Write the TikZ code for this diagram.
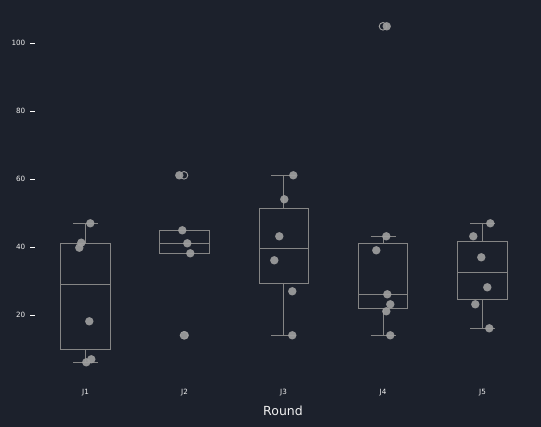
\documentclass[tikz,border=0pt]{standalone}
\usepackage{fontspec}
\setmainfont{DejaVu Sans}
\definecolor{bg}{HTML}{1C212C}
\definecolor{boxc}{HTML}{858585}
\definecolor{ptc}{HTML}{9E9E9E}
\definecolor{txt}{HTML}{F0F0F0}
\tikzset{
  boxline/.style={draw=boxc, line width=1pt},
  pt/.style={fill=ptc, fill opacity=0.92, draw=none},
  flier/.style={draw=ptc, line width=0.9pt, fill=none},
  ticklab/.style={text=txt, font=\fontsize{7.2}{8}\selectfont, inner sep=0pt},
  axtick/.style={draw=white, line width=0.9pt},
}
% \bxp{center}{left}{right}{q3 y}{median y}{q1 y}{whisker top y}{whisker bottom y}
\newcommand{\bxp}[8]{%
  \draw[boxline] (#2,#4) rectangle (#3,#6);
  \draw[boxline] (#2,#5) -- (#3,#5);
  \draw[boxline] (#1,#4) -- (#1,#7);
  \draw[boxline] (#1,#6) -- (#1,#8);
  \draw[boxline] ({#1-12.5},#7) -- ({#1+12.5},#7);
  \draw[boxline] ({#1-12.5},#8) -- ({#1+12.5},#8);
}
\newcommand{\dotp}[2]{\fill[pt] (#1,#2) circle (4.2);}
\newcommand{\flr}[2]{\draw[flier] (#1,#2) circle (3.8);}
\begin{document}
\begin{tikzpicture}[x=1pt,y=-1pt]
\fill[bg] (0,0) rectangle (541,427);
\useasboundingbox (0,0) rectangle (541,427);
% y axis ticks
\foreach \v/\yy in {100/43,80/111,60/179,40/247,20/315}{
  \draw[axtick] (30,\yy) -- (35,\yy);
  \node[ticklab, anchor=east] (ty\v) at (25.5,\yy) {\v};
}
% x labels
\node[ticklab] (x1) at (85.5,393) {J1};
\node[ticklab] (x2) at (184.5,393) {J2};
\node[ticklab] (x3) at (283.5,393) {J3};
\node[ticklab] (x4) at (383,393) {J4};
\node[ticklab] (x5) at (482.5,393) {J5};
\node[text=txt, font=\fontsize{12.5}{14}\selectfont, inner sep=0pt] (xlab) at (283,410.5) {Round};
% boxes
\bxp{85.5}{60.3}{110.3}{244}{284.3}{349.3}{223.3}{362.3}
\bxp{184.5}{159.3}{209.7}{230.3}{243.3}{253.3}{230.3}{253.3}
\bxp{283.5}{259.3}{308.7}{208.3}{248.3}{283.7}{175.3}{335.3}
\bxp{383}{358.3}{407.7}{243.3}{294.3}{308.3}{236.3}{335.3}
\bxp{482.5}{457.3}{507.3}{241.3}{272.3}{300}{223.3}{328.3}
% fliers
\flr{184}{175.3}
\flr{184}{335.3}
\flr{383}{26.3}
% points
\dotp{90.3}{223.3}\dotp{81.3}{242.7}\dotp{79.3}{247.7}\dotp{89.3}{321.3}\dotp{91.3}{359.3}\dotp{86.3}{362.3}
\dotp{179.3}{175.3}\dotp{182.3}{230.3}\dotp{187.3}{243.3}\dotp{190.3}{253.3}\dotp{184.7}{335.3}
\dotp{293.3}{175.3}\dotp{284.3}{199.3}\dotp{279.3}{236.3}\dotp{274.3}{260.3}\dotp{292.3}{291.3}\dotp{292.3}{335.3}
\dotp{386.7}{26.3}\dotp{386.3}{236.3}\dotp{376.3}{250.3}\dotp{387.3}{294.3}\dotp{390.3}{304.3}\dotp{386.3}{311.3}\dotp{390.3}{335.3}
\dotp{490.3}{223.3}\dotp{473.3}{236.3}\dotp{481.3}{257.3}\dotp{487.3}{287.3}\dotp{475.3}{304.3}\dotp{489.3}{328.3}
\end{tikzpicture}
\end{document}
